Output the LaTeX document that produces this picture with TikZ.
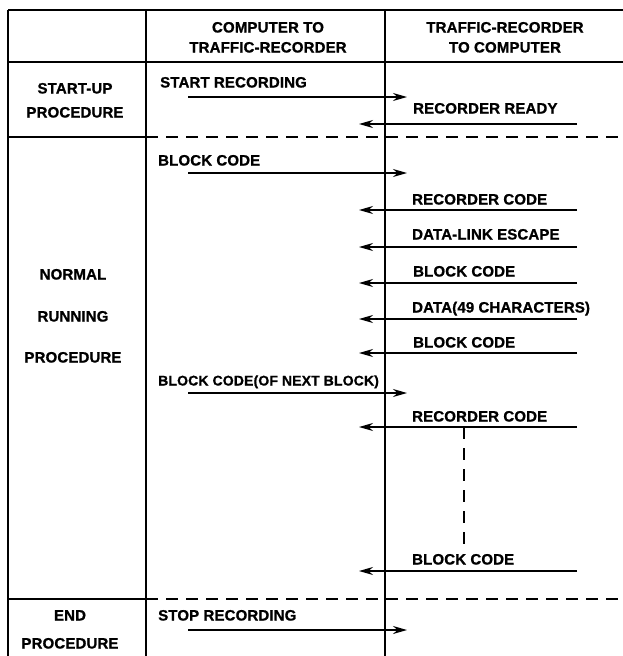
\documentclass[tikz,border=0pt]{standalone}
\usepackage{fontspec}
\setmainfont{Liberation Sans}[LetterSpace=1,BoldFeatures={FakeBold=1}]
\usetikzlibrary{arrows.meta}
\begin{document}
\begin{tikzpicture}[x=1pt,y=-1pt,
  frame/.style={line width=1.8pt},
  sep/.style={line width=1.6pt, dash pattern=on 12pt off 8pt},
  vdash/.style={line width=1.5pt, dash pattern=on 12pt off 9pt},
  msg/.style={line width=1.6pt, -{Stealth[length=14pt,width=8pt]}},
  lbl/.style={inner sep=0pt, text height=11pt, text depth=0pt, anchor=west,
    font=\bfseries\fontsize{15}{15}\selectfont},
  clbl/.style={lbl, anchor=center}]
\useasboundingbox (0,0) rectangle (623,656);
% frame
\draw[frame] (8,10) -- (623,10);
\draw[frame] (8,62) -- (623,62);
\draw[frame] (8,10) -- (8,656);
\draw[frame] (146,10) -- (146,656);
\draw[frame] (385,10) -- (385,656);
\draw[frame] (8,137) -- (146,137);
\draw[frame] (8,599) -- (146,599);
\draw[sep] (146,137) -- (623,137);
\draw[sep] (146,599) -- (623,599);
% headers
\node[clbl] (h1a) at (268,27) {COMPUTER TO};
\node[clbl] (h1b) at (268,47) {TRAFFIC-RECORDER};
\node[clbl] (h2a) at (505,27) {TRAFFIC-RECORDER};
\node[clbl] (h2b) at (505,47) {TO COMPUTER};
% row labels
\node[clbl] (s1) at (75,88) {START-UP};
\node[clbl] (s2) at (75,112) {PROCEDURE};
\node[clbl] (n1) at (73,274) {NORMAL};
\node[clbl] (n2) at (73,316) {RUNNING};
\node[clbl] (n3) at (73,357) {PROCEDURE};
\node[clbl] (e1) at (70,615) {END};
\node[clbl] (e2) at (70,643) {PROCEDURE};
% computer -> recorder messages
\node[lbl] (m1) at (160,82) {START RECORDING};
\coordinate (m1a) at (188,97); \coordinate (m1b) at (407,97);
\draw[msg] (m1a) -- (m1b);
\node[lbl] (m3) at (158,160) {BLOCK CODE};
\coordinate (m3a) at (188,173); \coordinate (m3b) at (407,173);
\draw[msg] (m3a) -- (m3b);
\node[lbl, font=\bfseries\fontsize{14}{14}\selectfont] (m9) at (158,380) {BLOCK CODE(OF NEXT BLOCK)};
\coordinate (m9a) at (188,393); \coordinate (m9b) at (407,393);
\draw[msg] (m9a) -- (m9b);
\node[lbl] (m12) at (158,615) {STOP RECORDING};
\coordinate (m12a) at (188,630); \coordinate (m12b) at (407,630);
\draw[msg] (m12a) -- (m12b);
% recorder -> computer messages
\node[lbl] (m2) at (413,108) {RECORDER READY};
\coordinate (m2a) at (577,124); \coordinate (m2b) at (359,124);
\draw[msg] (m2a) -- (m2b);
\node[lbl] (m4) at (412,199) {RECORDER CODE};
\coordinate (m4a) at (577,210); \coordinate (m4b) at (359,210);
\draw[msg] (m4a) -- (m4b);
\node[lbl] (m5) at (412,234) {DATA-LINK ESCAPE};
\coordinate (m5a) at (577,247); \coordinate (m5b) at (359,247);
\draw[msg] (m5a) -- (m5b);
\node[lbl] (m6) at (413,271) {BLOCK CODE};
\coordinate (m6a) at (577,283); \coordinate (m6b) at (359,283);
\draw[msg] (m6a) -- (m6b);
\node[lbl] (m7) at (412,307) {DATA(49 CHARACTERS)};
\coordinate (m7a) at (577,319); \coordinate (m7b) at (359,319);
\draw[msg] (m7a) -- (m7b);
\node[lbl] (m8) at (413,342) {BLOCK CODE};
\coordinate (m8a) at (577,353); \coordinate (m8b) at (359,353);
\draw[msg] (m8a) -- (m8b);
\node[lbl] (m10) at (412,416) {RECORDER CODE};
\coordinate (m10a) at (577,427); \coordinate (m10b) at (359,427);
\draw[msg] (m10a) -- (m10b);
\node[lbl] (m11) at (412,559) {BLOCK CODE};
\coordinate (m11a) at (577,571); \coordinate (m11b) at (359,571);
\draw[msg] (m11a) -- (m11b);
% continuation
\coordinate (c1) at (464,427); \coordinate (c2) at (464,546);
\draw[vdash] (c1) -- (c2);
\end{tikzpicture}
\end{document}
